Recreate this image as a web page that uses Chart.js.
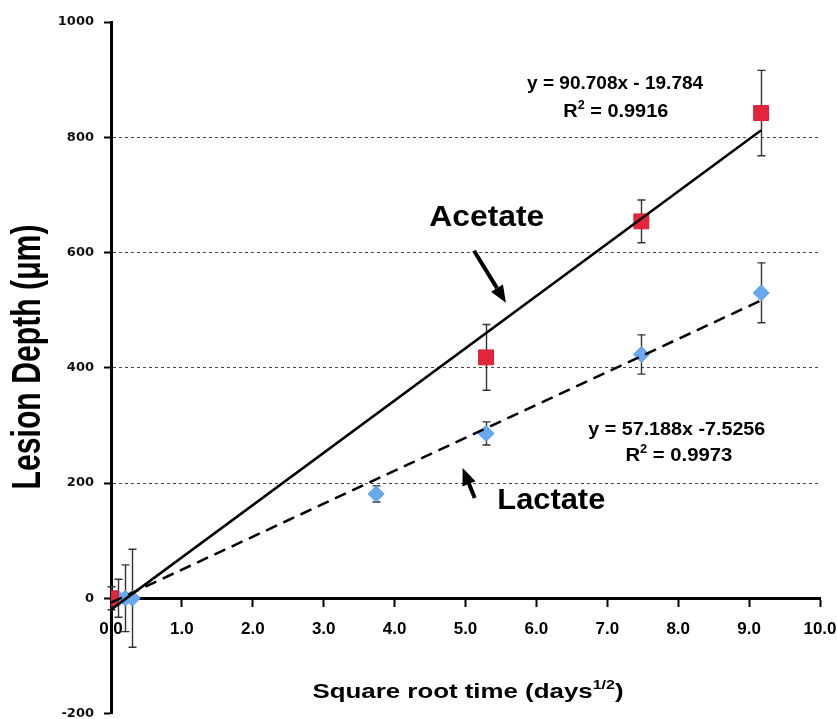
<!DOCTYPE html>
<html>
<head>
<meta charset="utf-8">
<script src="https://cdn.jsdelivr.net/npm/chart.js@4/dist/chart.umd.min.js"></script>
<style>
    html, body { margin: 0; padding: 0; background: #fff; overflow: hidden; height: 719px; }
    canvas { display: block; }
</style>
</head>
<body>
<!-- canvas is a few px taller than the window: Chart.js keeps a fixed bottom gap under the axis -->
<canvas id="graficoLesion" width="837" height="725"></canvas>
<script>
// data (x = sqrt of days)
const acetateX = [0, 5.29, 7.48, 9.17];
const acetateY = [0, 418, 654, 842];
const acetateErr = [20, 57, 37, 74];

const lactateX = [0.1, 0.2, 0.3, 3.74, 5.29, 7.48, 9.17];
const lactateY = [0, 0, 0, 181, 286, 423, 530];
const lactateErr = [33, 58, 85, 14, 20, 34, 52];

// regression lines as printed on the chart
const acetateFit = [90.708, -19.784];
const lactateFit = [57.188, -7.5256];
const acetateR2 = '0.9916';
const lactateR2 = '0.9973';

const xTickLabels = ['0.0', '1.0', '2.0', '3.0', '4.0', '5.0', '6.0', '7.0', '8.0', '9.0', '10.0'];
const yTickLabels = ['-200', '0', '200', '400', '600', '800', '1000'];

const FONT = '"Liberation Sans", Arial, sans-serif';

function fitLine(fit, xs) {
    const x1 = xs[xs.length - 1];
    return [{ x: 0, y: fit[1] }, { x: x1, y: fit[0] * x1 + fit[1] }];
}

// draws text pieces (with optional superscripts) centred on px,py, squeezed to a target width
function drawParts(ctx, parts, px, py, size, width, rotate) {
    ctx.save();
    ctx.translate(px, py);
    if (rotate) ctx.rotate(-Math.PI / 2);
    ctx.textBaseline = 'alphabetic';
    let total = 0;
    parts.forEach(p => {
        ctx.font = 'bold ' + (p.sup ? Math.round(size * 0.62) : size) + 'px ' + FONT;
        p.w = ctx.measureText(p.t).width;
        total += p.w;
    });
    const sx = width ? width / total : 1;
    ctx.scale(sx, 1);
    let cur = -total / 2;
    const base = size * 0.36;
    parts.forEach(p => {
        ctx.font = 'bold ' + (p.sup ? Math.round(size * 0.62) : size) + 'px ' + FONT;
        ctx.fillStyle = '#000';
        ctx.fillText(p.t, cur, p.sup ? base - size * 0.42 : base);
        cur += p.w;
    });
    ctx.restore();
}

function arrow(ctx, x1, y1, x2, y2) {
    const ang = Math.atan2(y2 - y1, x2 - x1);
    const head = 17;
    const half = 7;
    const bx = x2 - head * Math.cos(ang);
    const by = y2 - head * Math.sin(ang);
    ctx.save();
    ctx.strokeStyle = '#000';
    ctx.fillStyle = '#000';
    ctx.lineWidth = 4;
    ctx.beginPath();
    ctx.moveTo(x1, y1);
    ctx.lineTo(bx, by);
    ctx.stroke();
    ctx.beginPath();
    ctx.moveTo(x2, y2);
    ctx.lineTo(bx + half * Math.sin(ang), by - half * Math.cos(ang));
    ctx.lineTo(bx - half * Math.sin(ang), by + half * Math.cos(ang));
    ctx.closePath();
    ctx.fill();
    ctx.restore();
}

const errorBars = {
    id: 'errorBars',
    beforeDatasetsDraw(chart) {
        const { ctx, scales: { x, y } } = chart;
        ctx.save();
        ctx.strokeStyle = '#333';
        ctx.lineWidth = 1.4;
        [[acetateX, acetateY, acetateErr], [lactateX, lactateY, lactateErr]].forEach(([xs, ys, es]) => {
            xs.forEach((v, i) => {
                const px = Math.round(x.getPixelForValue(v)) + 0.5;
                const top = y.getPixelForValue(ys[i] + es[i]);
                const bot = y.getPixelForValue(ys[i] - es[i]);
                ctx.beginPath();
                ctx.moveTo(px, top); ctx.lineTo(px, bot);
                ctx.moveTo(px - 4, top); ctx.lineTo(px + 4, top);
                ctx.moveTo(px - 4, bot); ctx.lineTo(px + 4, bot);
                ctx.stroke();
            });
        });
        ctx.restore();
    }
};

const labels = {
    id: 'labels',
    afterDraw(chart) {
        const { ctx, scales: { x, y } } = chart;
        const X = v => x.getPixelForValue(v);
        const Y = v => y.getPixelForValue(v);

        drawParts(ctx, [{ t: 'y = 90.708x - 19.784' }], X(7.11), Y(896), 19, 176);
        drawParts(ctx, [{ t: 'R' }, { t: '2', sup: true }, { t: ' = ' + acetateR2 }], X(7.12), Y(847), 19, 105);
        drawParts(ctx, [{ t: 'y = 57.188x -7.5256' }], X(7.98), Y(296), 19, 177);
        drawParts(ctx, [{ t: 'R' }, { t: '2', sup: true }, { t: ' = ' + lactateR2 }], X(8.01), Y(250), 19, 107);

        drawParts(ctx, [{ t: 'Acetate' }], X(5.30), Y(664), 30, 115);
        drawParts(ctx, [{ t: 'Lactate' }], X(6.21), Y(174), 30, 108);
        arrow(ctx, X(5.12), Y(603), X(5.57), Y(513));
        arrow(ctx, X(5.13), Y(174), X(4.96), Y(226));

        // axis titles
        drawParts(ctx, [{ t: 'Square root time (days' }, { t: '1/2', sup: true }, { t: ')' }], 468, 690, 21, 311);
        drawParts(ctx, [{ t: 'Lesion Depth (\u03bcm)' }], 26, 357, 40, 265, true);
    }
};

new Chart(document.getElementById('graficoLesion').getContext('2d'), {
    type: 'scatter',
    data: {
        datasets: [
            {
                type: 'line',
                label: 'Acetate fit',
                data: fitLine(acetateFit, acetateX),
                borderColor: '#000',
                borderWidth: 2.5,
                pointRadius: 0,
                fill: false
            },
            {
                type: 'line',
                label: 'Lactate fit',
                data: fitLine(lactateFit, lactateX),
                borderColor: '#000',
                borderWidth: 2.5,
                borderDash: [12, 7],
                pointRadius: 0,
                fill: false
            },
            {
                label: 'Acetate',
                data: acetateX.map((v, i) => ({ x: v, y: acetateY[i] })),
                pointStyle: 'rect',
                pointRadius: 10.5,
                backgroundColor: '#e5253b',
                borderColor: '#d21c33',
                borderWidth: 1
            },
            {
                label: 'Lactate',
                data: lactateX.map((v, i) => ({ x: v, y: lactateY[i] })),
                pointStyle: 'rectRot',
                pointRadius: 8,
                backgroundColor: '#68a9f2',
                borderColor: '#5d9de8',
                borderWidth: 1
            }
        ]
    },
    options: {
        responsive: false,
        animation: false,
        layout: { padding: { top: 22, right: 17, bottom: 1, left: 0 } },
        scales: {
            x: {
                type: 'linear',
                min: 0,
                max: 10,
                position: { y: 0 },
                afterFit: s => {
                    s.height = 0;
                    s.paddingLeft = 0; s.paddingRight = 0;
                    s.paddingTop = 0; s.paddingBottom = 0;
                },
                grid: {
                    drawOnChartArea: false,
                    drawTicks: true,
                    tickLength: 7,
                    tickColor: '#000',
                    tickWidth: 2
                },
                border: { display: true, color: '#000', width: 3 },
                ticks: {
                    stepSize: 1,
                    padding: 14,
                    color: '#000',
                    font: { family: FONT, size: 17, weight: 'bold' },
                    callback: (v, i) => xTickLabels[i]
                }
            },
            y: {
                type: 'linear',
                min: -200,
                max: 1000,
                position: 'left',
                afterFit: s => {
                    s.width = 111;
                    s.paddingTop = 0; s.paddingBottom = 0;
                },
                grid: {
                    color: ctx => (ctx.tick && ctx.tick.value > 0 && ctx.tick.value < 1000) ? '#444' : 'rgba(0,0,0,0)',
                    lineWidth: 1,
                    drawTicks: true,
                    tickLength: 7,
                    tickColor: '#000',
                    tickWidth: 2
                },
                border: { display: true, color: '#000', width: 3, dash: [3, 3] },
                ticks: {
                    stepSize: 200,
                    padding: 10,
                    color: '#111',
                    font: { family: '"DejaVu Sans", sans-serif', size: 13, weight: 'bold' },
                    callback: (v, i) => yTickLabels[i]
                }
            }
        },
        plugins: {
            legend: { display: false },
            tooltip: { enabled: false }
        }
    },
    plugins: [errorBars, labels]
});
</script>
</body>
</html>
